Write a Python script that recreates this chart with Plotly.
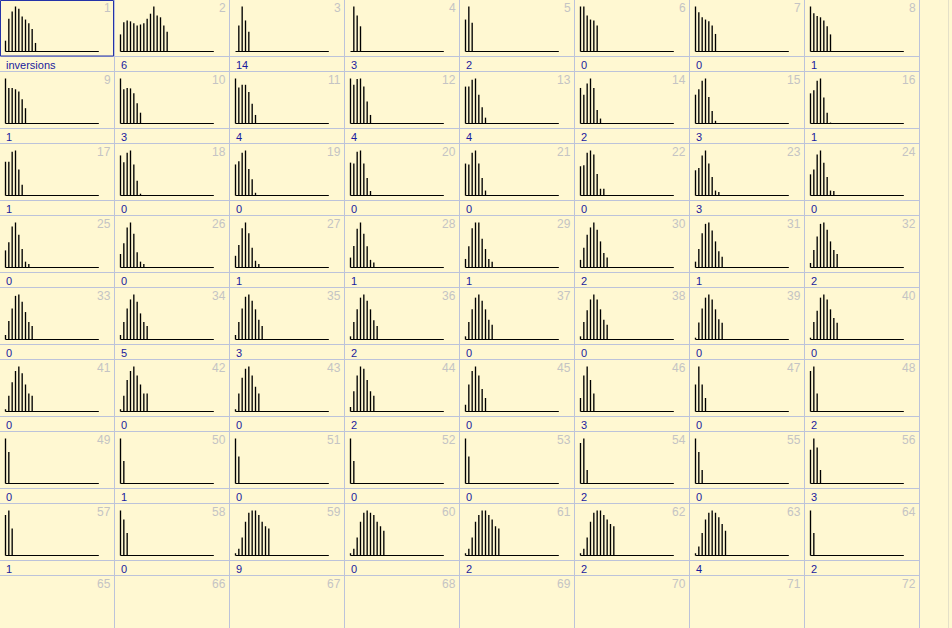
import plotly.graph_objects as go

W, H = 952, 628
NCOL = 8
CELL_W = 115
ROW_H = 72

# bottom labels for the 64 cells (row-major)
labels = ["inversions", "6", "14", "3", "2", "0", "0", "1",
          "1", "3", "4", "4", "4", "2", "3", "1",
          "1", "0", "0", "0", "0", "0", "3", "0",
          "0", "0", "1", "1", "1", "2", "1", "2",
          "0", "5", "3", "2", "0", "0", "0", "0",
          "0", "0", "0", "2", "0", "3", "0", "2",
          "0", "1", "0", "0", "0", "2", "0", "3",
          "1", "0", "9", "0", "2", "2", "4", "2"]

# relative bar heights (bins 0..n) per cell
h01 = [0.24, 0.73, 0.89, 1.0, 0.95, 0.78, 0.71, 0.63, 0.50, 0.19]
h02 = [0.38, 0.65, 0.69, 0.67, 0.63, 0.58, 0.60, 0.63, 0.73, 0.84, 1.0, 0.80, 0.76, 0.58, 0.44]
h03 = [0, 0.58, 1.0, 0.69, 0.44]
h04 = [0, 1.0, 0.80, 0.56]
h05 = [0.71, 1.0, 0.64]
h06 = [1.0, 1.0, 0.80, 0.71, 0.69, 0.58]
h07 = [1.0, 0.87, 0.76, 0.71, 0.67, 0.58, 0.39]
h08 = [1.0, 0.85, 0.79, 0.76, 0.69, 0.56, 0.38]
h09 = [1.0, 0.79, 0.79, 0.76, 0.71, 0.54, 0.34]
h10 = [1.0, 0.76, 0.79, 0.78, 0.67, 0.45, 0.24]
h11 = [1.0, 0.80, 0.86, 0.86, 0.70, 0.44, 0.19]
h12 = [1.0, 0.86, 0.99, 1.0, 0.82, 0.49, 0.19]
h13 = [0.82, 0.82, 0.97, 1.0, 0.64, 0.36, 0.13]
h14 = [0.79, 0.64, 0.89, 1.0, 0.79, 0.30, 0.11]
h15 = [0.64, 0.76, 0.95, 1.0, 0.59, 0.28, 0.06]
h16 = [0.67, 0.74, 0.95, 1.0, 0.58, 0.24, 0.02]
h17 = [0.75, 0.75, 0.97, 1.0, 0.58, 0.24]
h18 = [0.89, 0.74, 0.95, 1.0, 0.69, 0.33, 0.04]
h19 = [0.69, 0.76, 0.95, 1.0, 0.59, 0.36, 0.06]
h20 = [0.73, 0.71, 0.97, 1.0, 0.71, 0.39, 0.10]
h21 = [0.71, 0.69, 0.95, 1.0, 0.71, 0.39, 0.11]
h22 = [0.65, 0.67, 0.95, 1.0, 0.91, 0.48, 0.15, 0.15]
h23 = [0.56, 0.61, 0.89, 1.0, 0.71, 0.41, 0.11, 0.08]
h24 = [0.47, 0.58, 0.91, 1.0, 0.73, 0.41, 0.11, 0.10]
h25 = [0.38, 0.56, 0.91, 1.0, 0.73, 0.41, 0.13, 0.08]
h26 = [0.30, 0.54, 0.89, 1.0, 0.75, 0.34, 0.13, 0.08]
h27 = [0.26, 0.50, 0.87, 1.0, 0.76, 0.44, 0.15, 0.08]
h28 = [0.22, 0.48, 0.86, 1.0, 0.75, 0.47, 0.17, 0.11]
h29 = [0.19, 0.47, 0.87, 1.0, 1.0, 0.64, 0.41, 0.19, 0.13]
h30 = [0.17, 0.44, 0.73, 0.89, 1.0, 0.84, 0.58, 0.32, 0.22]
h31 = [0.13, 0.41, 0.76, 0.97, 1.0, 0.82, 0.58, 0.36, 0.24]
h32 = [0.10, 0.39, 0.69, 0.97, 1.0, 0.84, 0.58, 0.39, 0.30]
h33 = [0.10, 0.41, 0.69, 0.97, 1.0, 0.84, 0.61, 0.39, 0.30]
h34 = [0.10, 0.39, 0.69, 0.89, 1.0, 0.84, 0.58, 0.39, 0.30]
h35 = [0.10, 0.39, 0.69, 0.95, 1.0, 0.86, 0.67, 0.44, 0.30]
h36 = [0.07, 0.39, 0.67, 0.93, 1.0, 0.86, 0.67, 0.43, 0.30]
h37 = [0.07, 0.39, 0.67, 0.93, 1.0, 0.86, 0.67, 0.44, 0.33]
h38 = [0.07, 0.39, 0.65, 0.89, 1.0, 0.89, 0.67, 0.44, 0.33]
h39 = [0.04, 0.38, 0.69, 0.93, 1.0, 0.89, 0.67, 0.45, 0.37]
h40 = [0.04, 0.39, 0.64, 0.93, 1.0, 0.89, 0.67, 0.48, 0.37]
h41 = [0.05, 0.35, 0.65, 0.90, 1.0, 0.85, 0.60, 0.40, 0.35]
h42 = [0.05, 0.35, 0.70, 0.90, 1.0, 0.80, 0.60, 0.40, 0.40]
h43 = [0.05, 0.40, 0.75, 0.95, 1.0, 0.80, 0.55, 0.40]
h44 = [0.10, 0.45, 0.80, 1.0, 0.95, 0.70, 0.45, 0.35]
h45 = [0.15, 0.60, 0.90, 1.0, 0.80, 0.50, 0.30]
h46 = [0.30, 0.80, 1.0, 0.70, 0.40]
h47 = [0.60, 1.0, 0.60, 0.30]
h48 = [0.90, 1.0, 0.40]
h49 = [1.0, 0.70]
h50 = [1.0, 0.50]
h51 = [1.0, 0.60]
h52 = [1.0, 0.50]
h53 = [1.0, 0.60]
h54 = [0.90, 1.0, 0.30]
h55 = [1.0, 0.70, 0.30]
h56 = [0.75, 1.0, 0.80, 0.30]
h57 = [0.90, 1.0, 0.60]
h58 = [1.0, 0.80, 0.50]
h59 = [0.05, 0.15, 0.40, 0.75, 0.95, 1.0, 1.0, 0.90, 0.75, 0.65, 0.60]
h60 = [0.05, 0.15, 0.40, 0.75, 0.95, 1.0, 0.95, 0.90, 0.75, 0.65, 0.55]
h61 = [0.05, 0.15, 0.40, 0.75, 0.90, 1.0, 1.0, 0.90, 0.80, 0.65, 0.60]
h62 = [0.05, 0.15, 0.40, 0.75, 0.95, 1.0, 1.0, 0.90, 0.80, 0.70, 0.65]
h63 = [0.05, 0.20, 0.50, 0.80, 0.95, 1.0, 0.95, 0.85, 0.70, 0.55]
h64 = [1.0, 0.50]

heights = [h01, h02, h03, h04, h05, h06, h07, h08, h09, h10, h11, h12, h13, h14, h15, h16,
           h17, h18, h19, h20, h21, h22, h23, h24, h25, h26, h27, h28, h29, h30, h31, h32,
           h33, h34, h35, h36, h37, h38, h39, h40, h41, h42, h43, h44, h45, h46, h47, h48,
           h49, h50, h51, h52, h53, h54, h55, h56, h57, h58, h59, h60, h61, h62, h63, h64]

NBINS = 28  # baseline spans bins 0..28
BG = "#FFF8D2"
GRID = "#BCC3DA"
LABEL_C = "#1A1A9C"
NUM_C = "#C4C4C4"


def px_x(x):
    return x / W


def px_y(y):
    return 1 - y / H


fig = go.Figure()
layout = dict(
    width=W, height=H, margin=dict(l=0, r=0, t=0, b=0),
    paper_bgcolor=BG, plot_bgcolor="rgba(0,0,0,0)", showlegend=False,
)
shapes = []
annotations = []

for k, hs in enumerate(heights):
    r, c = divmod(k, NCOL)
    x0 = c * CELL_W
    y0 = r * ROW_H
    ax = "" if k == 0 else str(k + 1)
    xs, ys = [], []
    for i, h in enumerate(hs):
        if h > 0:
            xs += [i, i, None]
            ys += [0, h, None]
    fig.add_trace(go.Scatter(x=xs, y=ys, mode="lines",
                             line=dict(color="black", width=1.35),
                             hoverinfo="skip", xaxis="x" + ax, yaxis="y" + ax))
    fig.add_trace(go.Scatter(x=[0, NBINS], y=[0, 0], mode="lines",
                             line=dict(color="black", width=1.2),
                             hoverinfo="skip", xaxis="x" + ax, yaxis="y" + ax))
    # chart region: 57 px tall; baseline at 51 px; max bar top at 6 px
    layout["xaxis" + ax] = dict(domain=[px_x(x0), px_x(x0 + CELL_W)],
                                range=[-5.5 / 3.333, (CELL_W - 5.5) / 3.333],
                                visible=False, fixedrange=True,
                                anchor="y" + ax)
    layout["yaxis" + ax] = dict(domain=[px_y(y0 + 57), px_y(y0)],
                                range=[-5.5 / 45, 1 + 6.5 / 45],
                                visible=False, fixedrange=True,
                                anchor="x" + ax)
    annotations.append(dict(x=px_x(x0 + 4), y=px_y(y0 + 64.5), xref="paper", yref="paper",
                            text=labels[k], showarrow=False, xanchor="left", yanchor="middle",
                            font=dict(family="Liberation Sans, Arial", size=11, color=LABEL_C)))

# numbers in top-right of every cell (including the empty last row)
for k in range(72):
    r, c = divmod(k, NCOL)
    x0 = c * CELL_W
    y0 = r * ROW_H
    annotations.append(dict(x=px_x(x0 + CELL_W - 2), y=px_y(y0 + 8), xref="paper", yref="paper",
                            text=str(k + 1), showarrow=False, xanchor="right", yanchor="middle",
                            font=dict(family="Liberation Sans, Arial", size=12, color=NUM_C)))

# grid lines
for c in range(1, NCOL + 1):
    shapes.append(dict(type="line", xref="paper", yref="paper",
                       x0=px_x(c * CELL_W - 0.5), x1=px_x(c * CELL_W - 0.5), y0=0, y1=1,
                       line=dict(color=GRID, width=1)))
for r in range(9):
    y0 = r * ROW_H
    if r > 0:
        shapes.append(dict(type="line", xref="paper", yref="paper",
                           x0=0, x1=px_x(NCOL * CELL_W), y0=px_y(y0 - 0.5), y1=px_y(y0 - 0.5),
                           line=dict(color=GRID, width=1)))
    shapes.append(dict(type="line", xref="paper", yref="paper",
                       x0=0, x1=px_x(NCOL * CELL_W), y0=px_y(y0 + 56.5), y1=px_y(y0 + 56.5),
                       line=dict(color=GRID, width=1)))
# right edge line
shapes.append(dict(type="line", xref="paper", yref="paper",
                   x0=px_x(948.5), x1=px_x(948.5), y0=0, y1=1,
                   line=dict(color="#E4E0C8", width=1)))
# selection border around first cell
shapes.append(dict(type="rect", xref="paper", yref="paper",
                   x0=px_x(0.5), x1=px_x(CELL_W - 1.5), y0=px_y(56), y1=px_y(0.5),
                   line=dict(color="#2433A8", width=1)))

layout["shapes"] = shapes
layout["annotations"] = annotations
fig.update_layout(**layout)
fig.write_html("out.html")
